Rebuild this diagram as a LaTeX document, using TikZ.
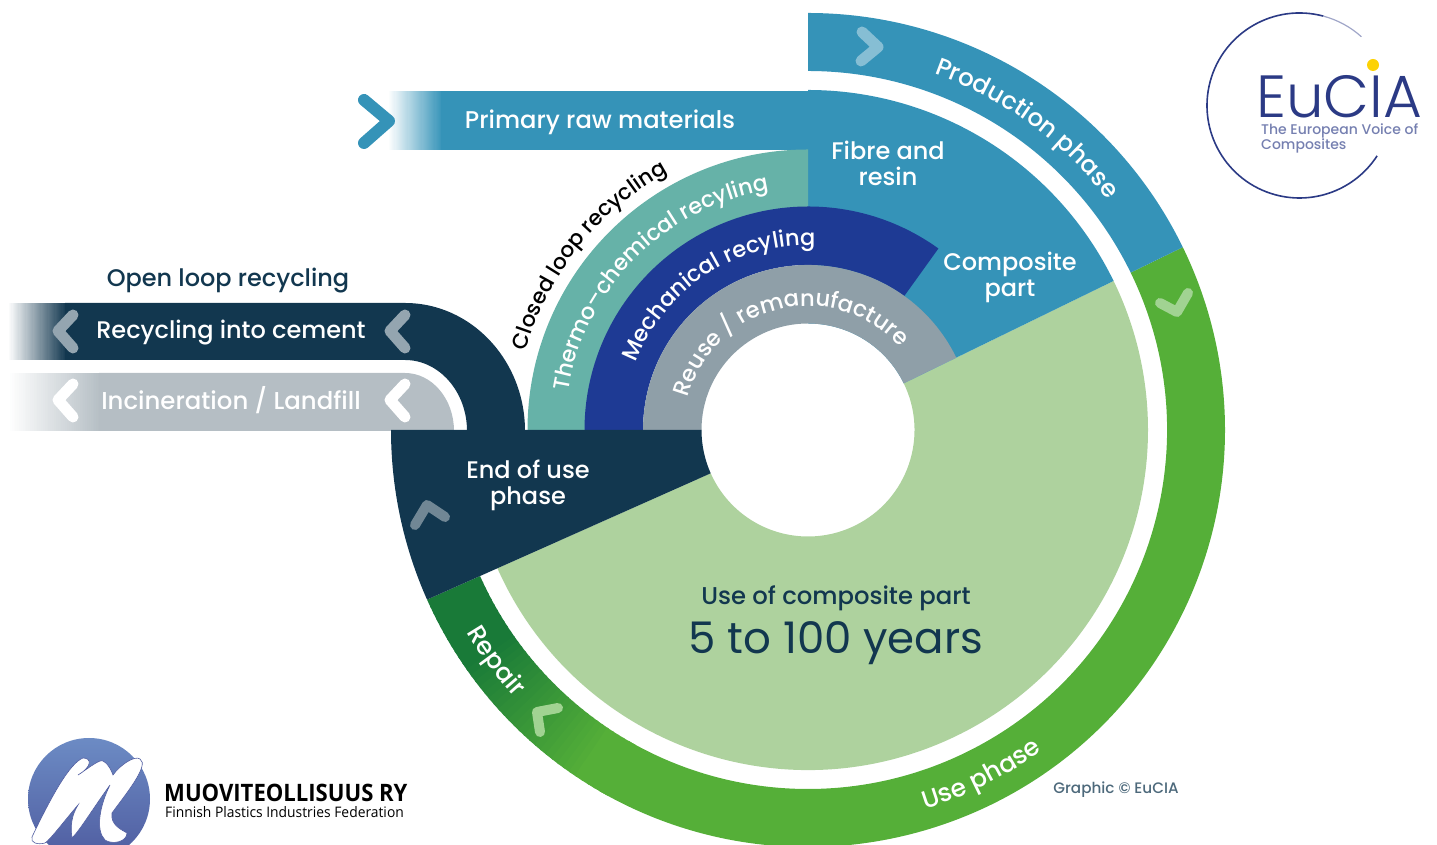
\documentclass[tikz,border=0pt]{standalone}
\usepackage{fontspec}
\setmainfont{Poppins Medium}
\newfontfamily\logofont{Open Sans}
\newfontfamily\regfont{Poppins}
\newfontfamily\lightfont{Poppins Light}
\usetikzlibrary{decorations.text}
\definecolor{cblue}{HTML}{3593B8}
\definecolor{cnavy}{HTML}{12374F}
\definecolor{cteal}{HTML}{66B2A8}
\definecolor{cdblue}{HTML}{1E3A94}
\definecolor{cgray}{HTML}{8F9FA8}
\definecolor{clgreen}{HTML}{AED29E}
\definecolor{cgreen}{HTML}{55AF38}
\definecolor{cdgreen}{HTML}{197A38}
\definecolor{clgray}{HTML}{B5BEC4}
\definecolor{ceu}{HTML}{2B3A85}
\definecolor{cmtop}{HTML}{6C8BC4}
\definecolor{cmbot}{HTML}{4F5CA0}
\newcommand{\Sector}[5]{\fill[#1] (#2:#5pt) arc[start angle=#2,end angle=#3,radius=#5pt] -- (#3:#4pt) arc[start angle=#3,end angle=#2,radius=#4pt] -- cycle;}
\newcommand{\CurveText}[6]{\path[decorate,decoration={text along path,text align=center,text={|\fontsize{#5}{#5}\selectfont\color{#4}|#6}}] (#1:#3pt) arc[start angle=#1,end angle=#2,radius=#3pt];}
% horizontal fade: x1, x2, y1, y2, colour
\newcommand{\HFade}[5]{\foreach \i in {0,2,...,98}{
  \pgfmathsetmacro{\xa}{#1+(#2-#1)*\i/100}
  \pgfmathsetmacro{\xb}{#1+(#2-#1)*(\i+2.6)/100}
  \colorlet{fadec}{#5!\i!white}
  \fill[fadec] (\xa,#3) rectangle (\xb,#4);
}}
\tikzset{
  lab/.style={font=\fontsize{#1}{26}\selectfont,align=center,inner sep=0pt},
  labw/.style={lab=#1,text=white},
  labn/.style={lab=#1,text=cnavy},
  chev/.style={line cap=round,line join=round,line width=#1},
}
\begin{document}
\begin{tikzpicture}[x=1pt,y=1pt]
\useasboundingbox (0,0) rectangle (1437,845);
% open-loop bands
\HFade{8}{66}{485}{542}{cnavy}
\fill[cnavy] (65,542) -- (405,542) arc[start angle=90,end angle=0,x radius=120pt,y radius=128pt] -- (467,414) arc[start angle=0,end angle=90,x radius=62pt,y radius=71pt] -- (65,485) -- cycle;
\HFade{8}{100}{414}{472}{clgray}
\fill[clgray] (99,472) -- (405,472) arc[start angle=90,end angle=0,x radius=49pt,y radius=58pt] -- (99,414) -- cycle;
% primary raw materials band
\HFade{388}{442}{695}{754}{cblue}
\fill[cblue] (441,695) rectangle (809,754);
\begin{scope}[shift={(808,415)}]
\foreach \a in {204,205,...,240}{
  \pgfmathtruncatemacro{\m}{min(100,max(0,(\a-214)*100/22))}
  \pgfmathsetmacro{\b}{\a+1.3}
  \colorlet{ringc}{cgreen!\m!cdgreen}
  \Sector{ringc}{\a}{\b}{359}{417}
}
\Sector{cgreen}{240}{386}{359}{417}
\Sector{cblue}{26}{90}{359}{417}
\Sector{clgreen}{204}{386}{106.5}{340}
\Sector{cblue}{26}{90}{106.5}{340}
\Sector{cteal}{90}{180}{223}{280.5}
\Sector{cdblue}{54.3}{180}{165}{223.5}
\Sector{cgray}{26}{180}{106.5}{165}
\Sector{cnavy}{180}{204}{106.5}{417}
% curved labels
\CurveText{76}{32}{378}{white}{24.5}{Production phase}
\CurveText{-78.3}{-48.3}{397}{white}{25}{Use phase}
\CurveText{203.5}{229.5}{397}{white}{25}{Repair}
\CurveText{171.5}{111.5}{293}{black}{21.5}{Closed loop recycling}
\CurveText{177.5}{92.5}{243}{white}{22.3}{Thermo–chemical recyling}
\CurveText{169}{77.4}{185}{white}{22.5}{Mechanical recyling}
\CurveText{187.5}{19.5}{124}{white}{22.7}{Reuse / remanufacture}
\end{scope}
% chevrons
\draw[chev=12pt,cblue] (364,745) -- (389,724) -- (364,702);
\draw[chev=11pt,cblue!60!white] (862,813) -- (878,798) -- (861,784);
\draw[chev=10pt,cgreen!55!white] (1160,542) -- (1177,533) -- (1188,552);
\draw[chev=10pt,cgreen!55!white] (540,113) -- (537,133) -- (558,137);
\draw[chev=10pt,cnavy!60!white] (415,320) -- (427,340) -- (445,328);
\draw[chev=11pt,cnavy!45!white] (73,530) -- (58,514) -- (73,497);
\draw[chev=11pt,cnavy!45!white] (405,530) -- (390,514) -- (405,497);
\draw[chev=11pt,white] (73,461) -- (58,445) -- (73,428);
\draw[chev=11pt,white] (405,461) -- (390,445) -- (405,428);
% straight labels
\node[labw=24.2] (primary) at (600,723) {Primary raw materials};
\node[labw=24] (fibre) at (888,682) {Fibre and\\resin};
\node[labw=24] (comp) at (1010,568) {Composite\\part};
\node[labn=24] (open) at (228,564) {Open loop recycling};
\node[labw=24] (cement) at (231,512) {Recycling into cement};
\node[labw=24.4] (incin) at (231,445) {Incineration / Landfill};
\node[labw=24] (eou) at (528,360) {End of use\\phase};
\node[labn=24.3] (use) at (836,247) {Use of composite part};
\node[labn=43.5,font=\regfont\fontsize{43.5}{43.5}\selectfont] (years) at (836,202) {5 to 100 years};
\node[lab=15.2,text=cnavy!75!white] (graphic) at (1116,55) {Graphic © EuCIA};
% EuCIA logo
\draw[ceu,line width=1.6pt] (1299.5,739.5) ++(75:92.5pt) arc[start angle=75,end angle=327,radius=92.5pt];
\draw[ceu!45!white,line width=1.2pt] (1299.5,739.5) ++(48:92.5pt) arc[start angle=48,end angle=75,radius=92.5pt];
\fill[yellow!70!orange] (1373,780) circle[radius=6pt];
\node[text=ceu,anchor=base west,inner sep=0pt,font=\lightfont\fontsize{59.5}{59.5}\selectfont] (eucia) at (1256,727) {EuCIA};
\node[lab=14,text=ceu!65!white,anchor=base west,align=left] (voice1) at (1261,710) {The European Voice of};
\node[lab=14,text=ceu!65!white,anchor=base west,align=left] (voice2) at (1261,695) {Composites};
% Muoviteollisuus logo
\shade[top color=cmtop,bottom color=cmbot] (89,46) circle[radius=61pt];
\fill[white,draw=cmbot,line width=0.6pt] (32,8) .. controls (52,50) and (70,82) .. (83,87)
  .. controls (92,87) and (92,78) .. (78,70) .. controls (90,78) and (100,86) .. (103,84)
  .. controls (110,80) and (112,72) .. (113,70) .. controls (120,80) and (135,90) .. (140,86)
  .. controls (150,80) and (125,50) .. (112,32) .. controls (110,20) and (122,15) .. (127,12)
  .. controls (127,3) and (112,0) .. (105,5) .. controls (95,15) and (100,40) .. (110,60)
  .. controls (92,35) and (80,15) .. (72,7) .. controls (70,20) and (72,30) .. (78,40)
  .. controls (65,25) and (50,5) .. (45,2) .. controls (38,0) and (30,2) .. (32,8) -- cycle;
\node[font=\logofont\bfseries\fontsize{24}{24}\selectfont,anchor=base west,inner sep=0pt,xscale=0.92,transform shape] (muo) at (164,43) {MUOVITEOLLISUUS RY};
\node[font=\logofont\fontsize{14.5}{14.5}\selectfont,anchor=base west,inner sep=0pt,xscale=0.955,transform shape] (fed) at (165,27) {Finnish Plastics Industries Federation};
\end{tikzpicture}
\end{document}
